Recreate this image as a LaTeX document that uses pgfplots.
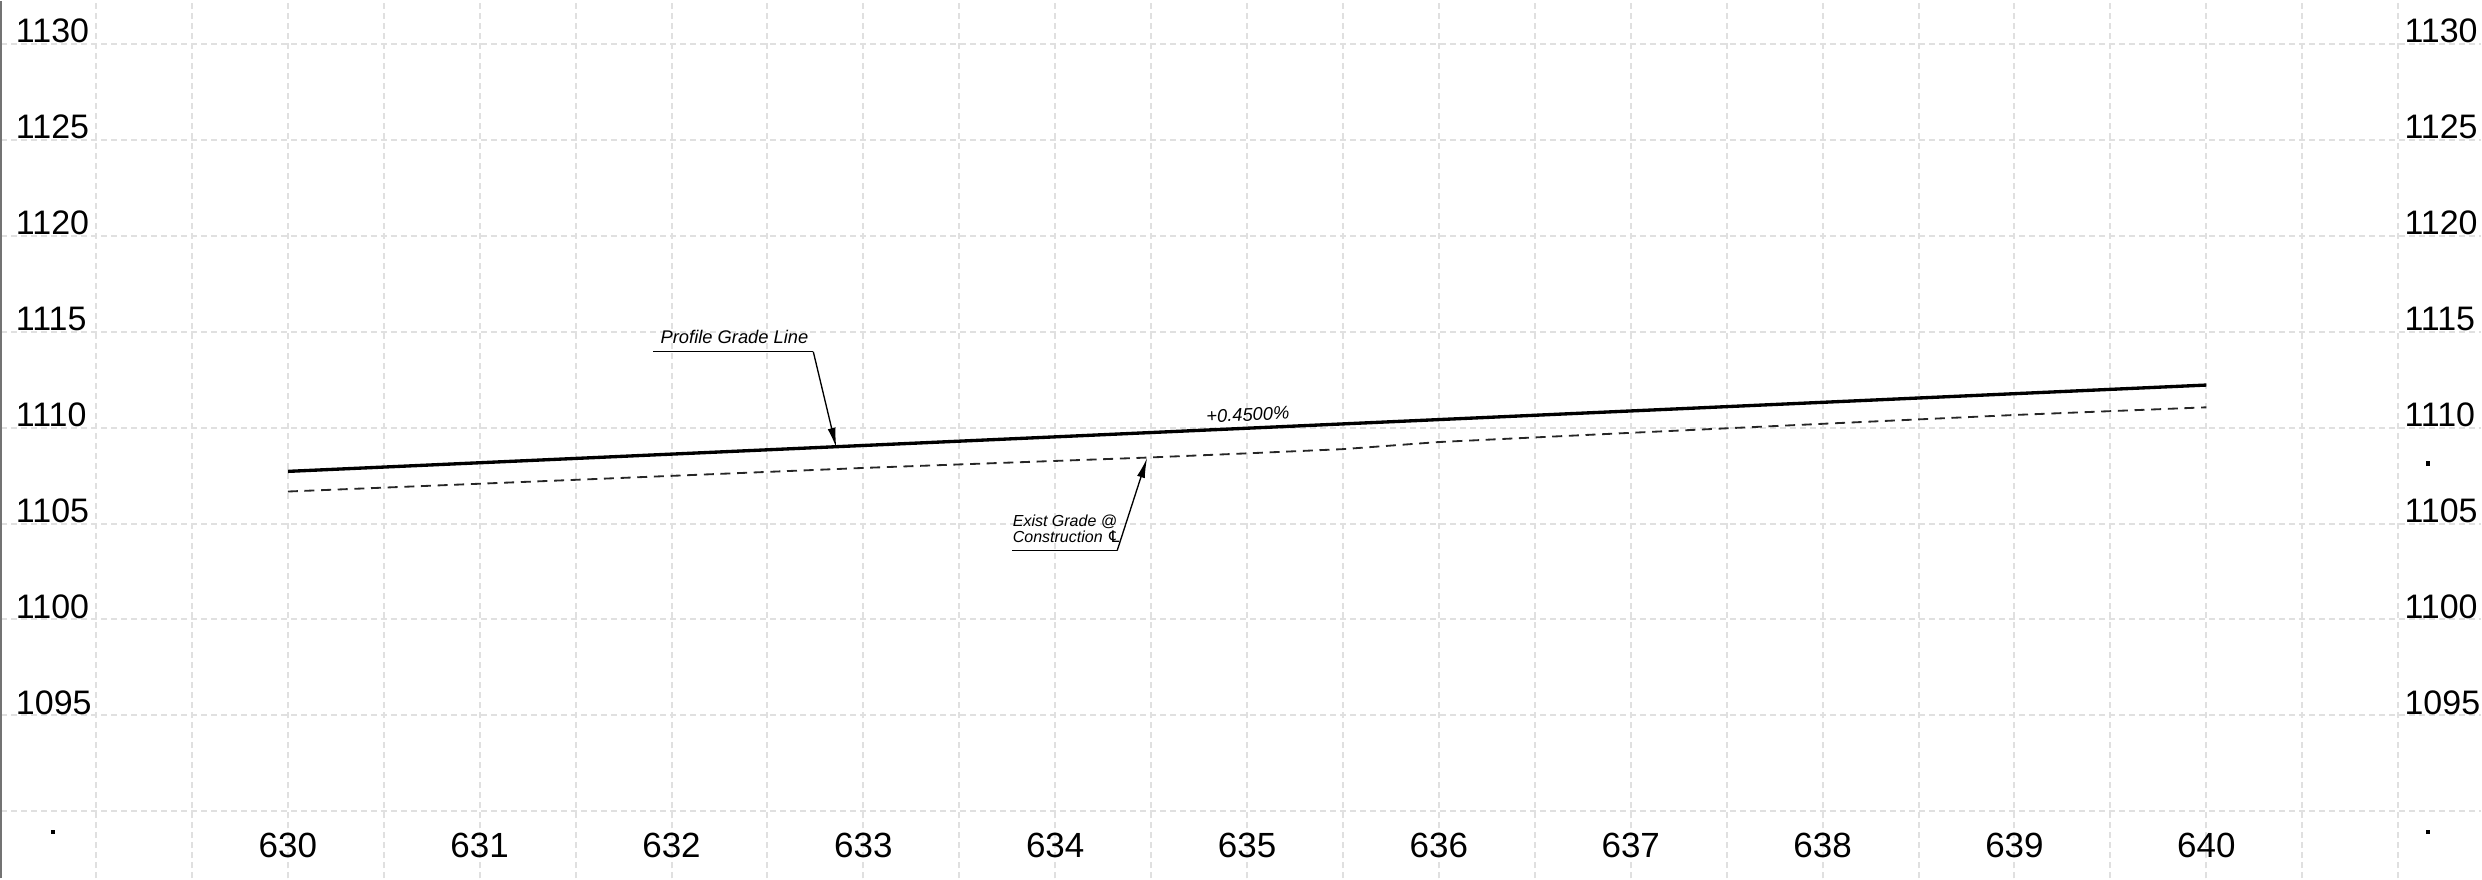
\documentclass[border=0pt]{standalone}
\usepackage{fontspec}
\setmainfont{Liberation Sans}
\newfontfamily\dejavu{DejaVu Sans}
\usepackage{pgfplots}
\pgfplotsset{compat=1.18}
\usetikzlibrary{arrows.meta}

\begin{document}
\begin{tikzpicture}
\begin{axis}[
    scale only axis,
    width=744.6pt, height=263.4pt,
    xmin=628.505, xmax=641.432,
    ymin=1086.51, ymax=1132.24,
    clip=false,
    axis x line*=bottom, axis y line*=left,
    x axis line style={draw=none},
    y axis line style={draw=black!55, line width=0.6pt, -},
    major tick length=0pt, minor tick length=0pt,
    xtick={630,631,...,640},
    minor xtick={629,629.5,...,641},
    ytick={1095,1100,...,1130},
    minor ytick={1090},
    grid=both,
    major grid style={black!12, line width=0.6pt, dash pattern=on 1.8pt off 1.2pt},
    minor grid style={black!12, line width=0.6pt, dash pattern=on 1.8pt off 1.2pt},
    /pgf/number format/assume math mode=true,
    /pgf/number format/set thousands separator={},
    xticklabel style={anchor=center, yshift=9.9pt, font=\fontsize{10.5}{12}\selectfont},
    yticklabel style={anchor=base west, inner sep=0pt, xshift=4.3pt, yshift=0.4pt, font=\fontsize{10.2}{12}\selectfont},
]

% profile grade line
\addplot[black, line width=1pt] coordinates {(630,1107.72) (640,1112.22)};

% existing grade at construction centerline
\addplot[black!85, line width=0.55pt, dash pattern=on 3pt off 2pt] coordinates {
    (630,1106.67) (631.5,1107.28) (633,1107.9) (634.48,1108.44)
    (635,1108.66) (635.5,1108.88) (636,1109.25) (637,1109.73)
    (638,1110.2) (639,1110.66) (640,1111.06)
};

% stray points
\addplot[only marks, mark=square*, mark size=0.45pt, black] coordinates {
    (628.776,1088.91) (641.156,1108.13) (641.156,1088.91)
};

% right-hand elevations
\pgfplotsinvokeforeach{1095,1100,...,1130}{
    \node[anchor=base west, inner sep=0pt, yshift=0.4pt, font=\fontsize{10.2}{12}\selectfont] at (axis cs:641.03,#1) {#1};
}

% labels
\node[anchor=base west, inner sep=0pt, font=\fontsize{5.5}{6}\selectfont\itshape] at (axis cs:631.94,1114.38) {Profile Grade Line};
\draw[line width=0.4pt] (axis cs:631.906,1113.96) -- (axis cs:632.739,1113.96);
\draw[line width=0.4pt, -{Latex[length=6pt,width=2.4pt]}] (axis cs:632.739,1113.96) -- (axis cs:632.859,1108.95);

\node[anchor=base west, inner sep=0pt, font=\fontsize{4.8}{5}\selectfont\itshape] at (axis cs:633.776,1104.84) {Exist Grade @};
\node[anchor=base west, inner sep=0pt, font=\fontsize{4.8}{5}\selectfont\itshape] at (axis cs:633.776,1104.01) {Construction {\dejavu\itshape ℄}};
\draw[line width=0.4pt] (axis cs:633.776,1103.59) -- (axis cs:634.323,1103.59);
\draw[line width=0.4pt, -{Latex[length=6pt,width=2.4pt]}] (axis cs:634.323,1103.59) -- (axis cs:634.479,1108.42);

\node[anchor=base west, inner sep=0pt, rotate=2.5, font=\fontsize{5.5}{6}\selectfont\itshape] at (axis cs:634.786,1110.26) {+0.4500\%};

\end{axis}
\end{tikzpicture}
\end{document}
